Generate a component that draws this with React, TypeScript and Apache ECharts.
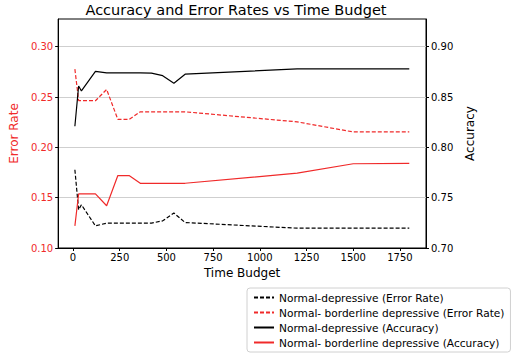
import React, { useEffect, useRef } from "react";
import * as echarts from "echarts";

const timeBudget = [10, 30, 45, 120, 180, 240, 300, 360, 420, 480, 540, 600, 1200, 1500, 1800];
const ndError = [0.1777, 0.138, 0.143, 0.122, 0.1247, 0.1247, 0.1247, 0.1247, 0.1247, 0.127, 0.1347, 0.1253, 0.1197, 0.1197, 0.1197];
const nbdError = [0.2777, 0.2465, 0.2465, 0.2463, 0.2575, 0.2277, 0.2277, 0.2353, 0.2353, 0.2353, 0.2353, 0.2353, 0.2253, 0.2153, 0.2153];
const ndAcc = [0.821, 0.861, 0.856, 0.8755, 0.874, 0.874, 0.874, 0.874, 0.8737, 0.8712, 0.8637, 0.8727, 0.878, 0.878, 0.878];
const nbdAcc = [0.722, 0.7537, 0.7537, 0.7537, 0.742, 0.772, 0.772, 0.7643, 0.7643, 0.7643, 0.7643, 0.7643, 0.7743, 0.7837, 0.784];
const xTicks = [0, 250, 500, 750, 1000, 1250, 1500, 1750];
const leftTicks = [0.1, 0.15, 0.2, 0.25, 0.3];
const rightTicks = [0.7, 0.75, 0.8, 0.85, 0.9];
const names = [
  "Normal-depressive (Error Rate)",
  "Normal- borderline depressive (Error Rate)",
  "Normal-depressive (Accuracy)",
  "Normal- borderline depressive (Accuracy)",
];

const RED = "#f02a2a";
const FONT = "DejaVu Sans";

export default function App() {
  const ref = useRef<HTMLDivElement>(null);
  useEffect(() => {
    document.body.style.margin = "0";
    const chart = echarts.init(ref.current!, null, { renderer: "svg" });
    const pair = (ys: number[]) => timeBudget.map((x, i) => [x, ys[i]]);
    chart.setOption({
      animation: false,
      textStyle: { fontFamily: FONT },
      title: {
        text: "Accuracy and Error Rates vs Time Budget",
        left: 236,
        top: 2,
        padding: 0,
        textAlign: "center",
        textStyle: { fontFamily: FONT, fontSize: 14.5, fontWeight: "normal", color: "#000" },
      },
      grid: {
        left: 47,
        right: 90,
        top: 19,
        bottom: 108,
        show: true,
        borderColor: "#000",
        borderWidth: 1,
      },
      legend: {
        orient: "vertical",
        left: 247,
        top: 288,
        itemWidth: 20,
        itemHeight: 10,
        itemGap: 4,
        padding: [4, 6, 4, 6],
        borderColor: "#d0d0d0",
        borderWidth: 1,
        borderRadius: 3,
        data: names,
        itemStyle: { opacity: 0 },
        textStyle: { fontFamily: FONT, fontSize: 10.6, color: "#000" },
      },
      xAxis: {
        type: "value",
        min: -79.5,
        max: 1889.5,
        name: "Time Budget",
        nameLocation: "middle",
        nameGap: 19,
        nameTextStyle: { fontFamily: FONT, fontSize: 12, color: "#000" },
        axisLine: { show: true, onZero: false, lineStyle: { color: "#000" } },
        axisTick: { show: true, customValues: xTicks, length: 3, lineStyle: { color: "#000" } },
        axisLabel: {
          customValues: xTicks,
          fontSize: 10,
          color: "#000",
          margin: 4,
          fontFamily: FONT,
          formatter: (v: number) => String(v),
        },
        splitLine: { show: false },
      },
      yAxis: [
        {
          type: "value",
          min: 0.1,
          max: 0.3275,
          interval: 0.05,
          name: "Error Rate",
          nameLocation: "middle",
          nameGap: 34,
          nameTextStyle: { fontFamily: FONT, fontSize: 12, color: RED },
          axisLine: { show: true, onZero: false, lineStyle: { color: "#000" } },
          axisTick: { show: true, customValues: leftTicks, length: 3, lineStyle: { color: "#000" } },
          axisLabel: {
            customValues: leftTicks,
            fontSize: 10,
            color: RED,
            margin: 5,
            fontFamily: FONT,
            formatter: (v: number) => v.toFixed(2),
          },
          splitLine: { show: true, lineStyle: { color: "#cfcfcf", width: 1 } },
        },
        {
          type: "value",
          min: 0.7,
          max: 0.9275,
          interval: 0.05,
          name: "Accuracy",
          nameLocation: "middle",
          nameGap: 33,
          nameTextStyle: { fontFamily: FONT, fontSize: 12, color: "#000" },
          axisLine: { show: true, onZero: false, lineStyle: { color: "#000" } },
          axisTick: { show: true, customValues: rightTicks, length: 3, lineStyle: { color: "#000" } },
          axisLabel: {
            customValues: rightTicks,
            fontSize: 10,
            color: "#000",
            margin: 5,
            fontFamily: FONT,
            formatter: (v: number) => v.toFixed(2),
          },
          splitLine: { show: false },
        },
      ],
      series: [
        {
          name: names[0],
          type: "line",
          yAxisIndex: 0,
          data: pair(ndError),
          symbol: "none",
          lineStyle: { color: "#000", width: 1.2, type: [4, 2] },
          itemStyle: { color: "#000" },
        },
        {
          name: names[1],
          type: "line",
          yAxisIndex: 0,
          data: pair(nbdError),
          symbol: "none",
          lineStyle: { color: RED, width: 1.2, type: [4, 2] },
          itemStyle: { color: RED },
        },
        {
          name: names[2],
          type: "line",
          yAxisIndex: 1,
          data: pair(ndAcc),
          symbol: "none",
          lineStyle: { color: "#000", width: 1.2 },
          itemStyle: { color: "#000" },
        },
        {
          name: names[3],
          type: "line",
          yAxisIndex: 1,
          data: pair(nbdAcc),
          symbol: "none",
          lineStyle: { color: RED, width: 1.2 },
          itemStyle: { color: RED },
        },
      ],
    });
    return () => chart.dispose();
  }, []);
  return <div ref={ref} style={{ position: "absolute", left: 0, top: 0, width: 516, height: 356 }} />;
}
